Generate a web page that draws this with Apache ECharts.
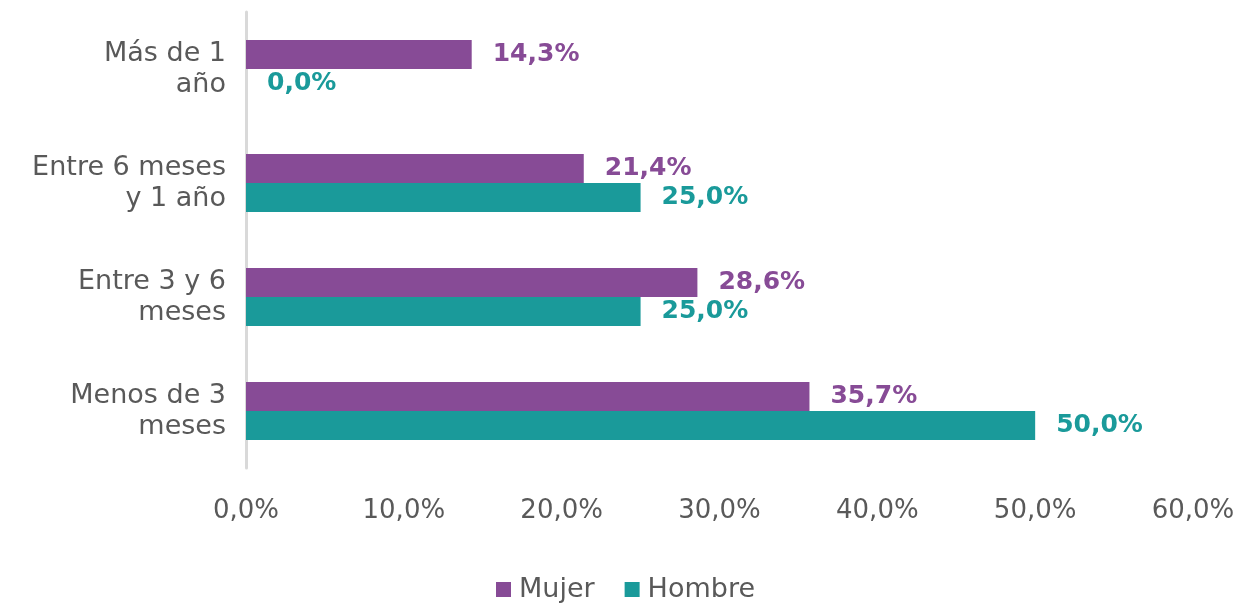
<!DOCTYPE html>
<html><head><meta charset="utf-8">
<script src="https://cdn.jsdelivr.net/npm/echarts@6/dist/echarts.min.js"></script>
<style>html,body{margin:0;padding:0;background:#fff}#c{width:1251px;height:603px}</style>
</head><body><div id="c"></div>
<script>
const categories = ['Más de 1\naño', 'Entre 6 meses\ny 1 año', 'Entre 3 y 6\nmeses', 'Menos de 3\nmeses'];
const mujer = [14.3, 21.4, 28.6, 35.7];
const hombre = [0.0, 25.0, 25.0, 50.0];
const seriesNames = ['Mujer', 'Hombre'];
const xTicks = { min: 0, max: 60, interval: 10 };

const fmt = v => v.toFixed(1).replace('.', ',') + '%';
const FONT = 'DejaVu Sans';
const chart = echarts.init(document.getElementById('c'));
chart.setOption({
  animation: false,
  grid: { left: 246, right: 58, top: 12, bottom: 135 },
  legend: {
    data: seriesNames, top: 571, left: 'center', itemWidth: 15, itemHeight: 15, itemGap: 30,
    icon: 'rect',
    textStyle: { fontFamily: FONT, fontSize: 27, color: '#595959', padding: [0, 0, 0, 3] }
  },
  xAxis: {
    type: 'value', min: xTicks.min, max: xTicks.max, interval: xTicks.interval,
    axisLine: { show: false }, axisTick: { show: false }, splitLine: { show: false },
    axisLabel: { formatter: v => fmt(v), fontFamily: FONT, fontSize: 26, color: '#595959', margin: 30 }
  },
  yAxis: {
    type: 'category', data: categories, inverse: true,
    axisLine: { show: true, lineStyle: { color: '#d9d9d9', width: 3 } },
    axisTick: { show: false },
    axisLabel: { fontFamily: FONT, fontSize: 27, color: '#595959', margin: 20, lineHeight: 31, align: 'right' }
  },
  series: [
    { name: seriesNames[0], type: 'bar', data: mujer, barGap: '0%', barCategoryGap: '49%',
      itemStyle: { color: '#874B96' },
      label: { show: true, position: 'right', distance: 21, formatter: p => fmt(p.value),
        fontFamily: FONT, fontWeight: 'bold', fontSize: 25, color: '#874B96' } },
    { name: seriesNames[1], type: 'bar', data: hombre, barGap: '0%', barCategoryGap: '49%',
      itemStyle: { color: '#1A9A9A' },
      label: { show: true, position: 'right', distance: 21, formatter: p => fmt(p.value),
        fontFamily: FONT, fontWeight: 'bold', fontSize: 25, color: '#1A9A9A' } }
  ]
});
</script></body></html>
